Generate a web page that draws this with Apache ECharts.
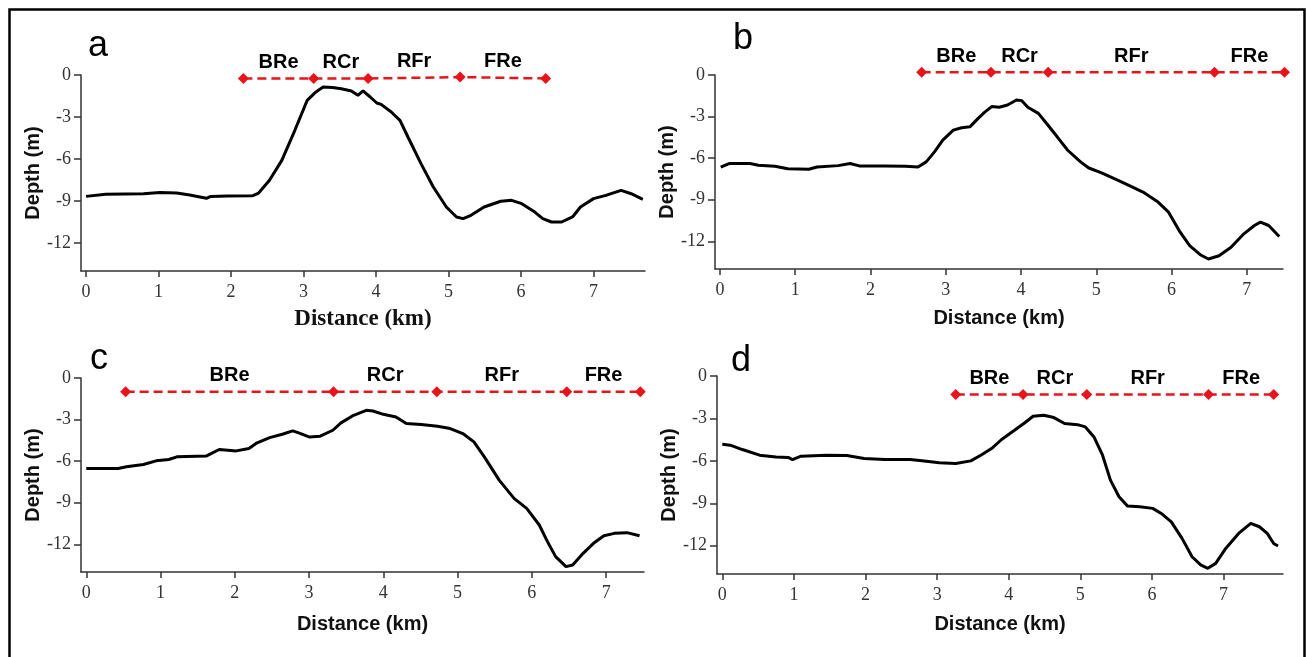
<!DOCTYPE html>
<html><head><meta charset="utf-8">
<script src="https://cdn.jsdelivr.net/npm/echarts@6/dist/echarts.min.js"></script>
<style>html,body{margin:0;padding:0;background:#fff}#c{width:1307px;height:657px}</style>
</head><body><div id="c"></div><script>
// ---- data ----
const xTicks = [0, 1, 2, 3, 4, 5, 6, 7];
const yTicks = [0, -3, -6, -9, -12];
const zoneNames = ['BRe', 'RCr', 'RFr', 'FRe'];
const panelLetters = ['a', 'b', 'c', 'd'];

const distA = [0,0.27,0.79,1.02,1.25,1.43,1.66,1.72,1.95,2.30,2.38,2.53,2.70,2.88,3.05,3.17,3.27,3.40,3.52,3.66,3.75,3.82,3.92,4.01,4.07,4.21,4.33,4.44,4.62,4.79,4.97,5.11,5.20,5.31,5.49,5.72,5.87,6.01,6.19,6.30,6.42,6.56,6.71,6.82,7.00,7.17,7.38,7.52,7.68];
const depthA = [-8.67,-8.52,-8.48,-8.40,-8.43,-8.57,-8.81,-8.67,-8.64,-8.62,-8.43,-7.52,-6.10,-3.95,-1.81,-1.21,-0.86,-0.90,-0.98,-1.14,-1.45,-1.14,-1.57,-2.00,-2.10,-2.64,-3.24,-4.43,-6.33,-8.00,-9.43,-10.14,-10.26,-10.02,-9.43,-9.02,-8.95,-9.19,-9.79,-10.26,-10.50,-10.50,-10.14,-9.43,-8.83,-8.60,-8.24,-8.48,-8.88];
const zoneBoundsA = [2.17, 3.14, 3.89, 5.16, 6.34];
const zoneDepthA = [-0.25, -0.25, -0.25, -0.15, -0.25];

const distB = [0.01,0.12,0.40,0.51,0.73,0.90,1.18,1.29,1.57,1.73,1.85,2.18,2.46,2.63,2.74,2.85,2.96,3.10,3.21,3.32,3.43,3.51,3.61,3.71,3.82,3.94,4.01,4.09,4.23,4.34,4.48,4.62,4.79,4.90,5.07,5.29,5.46,5.62,5.82,5.96,6.10,6.24,6.38,6.49,6.63,6.79,6.96,7.10,7.18,7.29,7.43];
const depthB = [-6.64,-6.39,-6.39,-6.51,-6.59,-6.76,-6.80,-6.64,-6.54,-6.39,-6.56,-6.56,-6.59,-6.64,-6.27,-5.55,-4.70,-3.98,-3.81,-3.74,-3.13,-2.72,-2.28,-2.33,-2.17,-1.80,-1.85,-2.33,-2.77,-3.50,-4.46,-5.43,-6.27,-6.71,-7.07,-7.60,-8.04,-8.45,-9.17,-9.90,-11.23,-12.31,-12.97,-13.28,-13.04,-12.43,-11.46,-10.86,-10.62,-10.86,-11.66];
const zoneBoundsB = [2.68, 3.60, 4.36, 6.57, 7.50];
const zoneDepthB = [0.2, 0.2, 0.2, 0.2, 0.2];

const distC = [0,0.43,0.54,0.77,0.94,1.11,1.22,1.62,1.79,2.02,2.19,2.30,2.47,2.64,2.78,2.86,3.00,3.15,3.32,3.43,3.60,3.77,3.86,4.00,4.17,4.31,4.51,4.73,4.90,5.07,5.22,5.36,5.56,5.76,5.93,6.10,6.21,6.32,6.46,6.55,6.69,6.83,6.97,7.11,7.28,7.45];
const depthC = [-6.53,-6.53,-6.41,-6.24,-5.98,-5.88,-5.69,-5.62,-5.16,-5.26,-5.09,-4.68,-4.30,-4.06,-3.82,-3.96,-4.25,-4.20,-3.77,-3.24,-2.69,-2.33,-2.38,-2.62,-2.81,-3.29,-3.36,-3.48,-3.65,-4.01,-4.61,-5.69,-7.37,-8.69,-9.41,-10.61,-11.81,-12.89,-13.61,-13.49,-12.65,-11.93,-11.38,-11.21,-11.16,-11.38];
const zoneBoundsC = [0.53, 3.33, 4.72, 6.47, 7.46];
const zoneDepthC = [-1.0, -1.0, -1.0, -1.0, -1.0];

const distD = [0,0.11,0.28,0.52,0.75,0.92,0.98,1.10,1.45,1.74,1.98,2.27,2.62,2.79,3.03,3.26,3.47,3.61,3.76,3.90,4.08,4.22,4.34,4.49,4.63,4.78,4.96,5.07,5.19,5.31,5.42,5.54,5.66,5.83,6.01,6.13,6.27,6.42,6.56,6.68,6.78,6.89,7.03,7.21,7.38,7.50,7.61,7.70,7.76];
const depthD = [-4.82,-4.89,-5.20,-5.60,-5.72,-5.76,-5.91,-5.67,-5.60,-5.62,-5.84,-5.91,-5.91,-6.00,-6.14,-6.19,-6.00,-5.60,-5.13,-4.49,-3.84,-3.32,-2.85,-2.78,-2.94,-3.36,-3.44,-3.60,-4.31,-5.60,-7.36,-8.54,-9.20,-9.25,-9.36,-9.72,-10.31,-11.48,-12.78,-13.36,-13.60,-13.25,-12.19,-11.13,-10.42,-10.66,-11.13,-11.84,-12.02];
const zoneBoundsD = [3.26, 4.20, 5.09, 6.79, 7.70];
const zoneDepthD = [-1.3, -1.3, -1.3, -1.3, -1.3];

// ---- layout / styling ----
const panels = [
  {dist: distA, depth: depthA, bounds: zoneBoundsA, zd: zoneDepthA},
  {dist: distB, depth: depthB, bounds: zoneBoundsB, zd: zoneDepthB},
  {dist: distC, depth: depthC, bounds: zoneBoundsC, zd: zoneDepthC},
  {dist: distD, depth: depthD, bounds: zoneBoundsD, zd: zoneDepthD}
];
const gridBoxes = [
  {left: 81, top: 75, width: 564, height: 196},
  {left: 715, top: 75, width: 568, height: 194},
  {left: 81, top: 378, width: 563, height: 194},
  {left: 717, top: 376, width: 566, height: 198}
];
const xRanges = [[-0.07, 7.71], [-0.066, 7.48], [-0.071, 7.51], [-0.074, 7.83]];
const xNameGaps = [37, 39, 42, 40];
const yNameGaps = [37, 31, 37, 32];
const letterPos = [[88, 64], [733, 57], [90, 377], [731, 379]];

const RED = '#e8141c';
const AXIS = '#333';
const serif = '"Liberation Serif", "Times New Roman", serif';
const sans = '"Liberation Sans", Arial, sans-serif';

const option = {
  animation: false,
  backgroundColor: '#fff',
  grid: gridBoxes.map(g => Object.assign({containLabel: false}, g)),
  xAxis: panels.map((p, i) => ({
    type: 'value', gridIndex: i, min: xRanges[i][0], max: xRanges[i][1],
    name: 'Distance (km)', nameLocation: 'middle', nameGap: xNameGaps[i],
    nameTextStyle: i === 0
      ? {fontFamily: serif, fontWeight: 'bold', fontSize: 23, color: '#111'}
      : {fontFamily: sans, fontWeight: 'bold', fontSize: 20, color: '#111'},
    axisLine: {show: true, onZero: false, lineStyle: {color: AXIS, width: 1.5}},
    axisTick: {show: true, length: 6, customValues: xTicks, lineStyle: {color: AXIS, width: 1.5}},
    axisLabel: {customValues: xTicks, fontFamily: serif, fontSize: 18, color: '#333', margin: 12},
    splitLine: {show: false}
  })),
  yAxis: panels.map((p, i) => ({
    type: 'value', gridIndex: i, min: -14, max: 0,
    name: 'Depth (m)', nameLocation: 'middle', nameGap: yNameGaps[i], nameRotate: 90,
    nameTextStyle: {fontFamily: sans, fontWeight: 'bold', fontSize: 20, color: '#111'},
    axisLine: {show: true, onZero: false, lineStyle: {color: AXIS, width: 1.5}},
    axisTick: {show: true, length: 7, customValues: yTicks, lineStyle: {color: AXIS, width: 1.5}},
    axisLabel: {customValues: yTicks, fontFamily: serif, fontSize: 18, color: '#333', margin: 10},
    splitLine: {show: false}
  })),
  series: [],
  graphic: []
};

panels.forEach((p, i) => {
  option.series.push({
    type: 'line', xAxisIndex: i, yAxisIndex: i, showSymbol: false, symbol: 'none',
    data: p.dist.map((d, k) => [d, p.depth[k]]),
    lineStyle: {color: '#000', width: 3}, silent: true
  });
  option.series.push({
    type: 'line', xAxisIndex: i, yAxisIndex: i, clip: false,
    symbol: 'diamond', symbolSize: 11, showSymbol: true,
    itemStyle: {color: RED},
    lineStyle: {color: RED, width: 2.5, type: [9, 5]},
    data: p.bounds.map((b, k) => [b, p.zd[k]]), silent: true, z: 5
  });
  option.series.push({
    type: 'scatter', xAxisIndex: i, yAxisIndex: i, clip: false,
    symbolSize: 0, itemStyle: {color: '#000', opacity: 1},
    label: {show: true, position: 'top', distance: 6, formatter: '{b}',
      fontFamily: sans, fontWeight: 'bold', fontSize: 20, color: '#000', opacity: 1},
    data: zoneNames.map((n, k) => ({name: n,
      value: [(p.bounds[k] + p.bounds[k + 1]) / 2, (p.zd[k] + p.zd[k + 1]) / 2]})),
    silent: true, z: 6
  });
  option.graphic.push({
    type: 'text', left: letterPos[i][0], top: letterPos[i][1] - 36,
    style: {text: panelLetters[i], font: '36px ' + sans, fill: '#000'}
  });
});
option.graphic.push({
  type: 'rect', left: 7, top: 7, silent: true,
  shape: {width: 1295, height: 680},
  style: {fill: 'none', stroke: '#000', lineWidth: 2.5}
});

const chart = echarts.init(document.getElementById('c'), null, {renderer: 'canvas'});
chart.setOption(option);
</script></body></html>
